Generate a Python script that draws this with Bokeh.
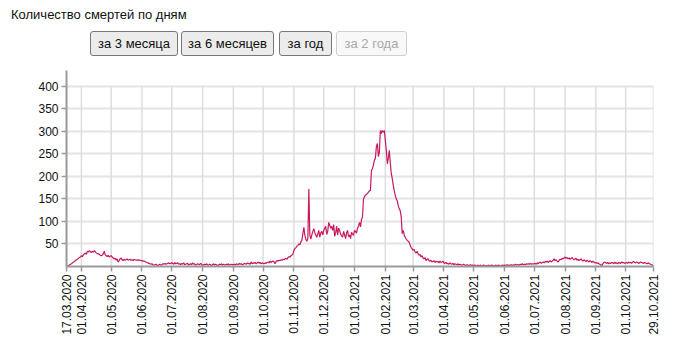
import pandas as pd
from bokeh.plotting import figure
from bokeh.layouts import column
from bokeh.models import Div, Range1d, FixedTicker, DatetimeTickFormatter, ColumnDataSource
from bokeh.embed import file_html
from bokeh.resources import INLINE

# ---- data: daily deaths, 17.03.2020 .. 29.10.2021 ----
start_date = "2020-03-17"
mar20 = [0, 1, 2, 3, 5, 6, 8, 10, 11, 13, 15, 16, 18, 20, 21]
apr20 = [24, 22, 26, 28, 30, 27, 34, 32, 35, 33, 31, 34, 32, 35, 33, 30, 29, 28, 27, 25, 24, 25, 28, 34, 26, 24, 22, 25, 21, 23]
may20 = [24, 21, 19, 17, 18, 14, 17, 10, 13, 17, 19, 15, 13, 16, 14, 15, 17, 14, 15, 16, 14, 15, 13, 16, 15, 14, 15, 13, 15, 14, 13]
jun20 = [13, 12, 12, 11, 10, 9, 8, 7, 6, 5, 6, 4, 3, 4, 5, 3, 2, 4, 5, 3, 4, 6, 5, 7, 5, 6, 7, 8, 6, 7]
jul20 = [8, 7, 5, 9, 6, 7, 8, 5, 6, 4, 7, 5, 8, 4, 5, 6, 7, 3, 5, 6, 4, 8, 5, 6, 3, 4, 6, 5, 4, 7, 5]
aug20 = [2, 4, 5, 3, 6, 4, 3, 5, 4, 2, 4, 6, 3, 5, 4, 2, 3, 5, 4, 6, 3, 5, 4, 3, 5, 4, 6, 3, 4, 5, 4]
sep20 = [4, 5, 3, 6, 5, 4, 7, 5, 6, 4, 5, 7, 6, 5, 8, 6, 7, 5, 10, 6, 8, 7, 9, 6, 8, 10, 7, 9, 6, 8]
oct20 = [7, 6, 8, 7, 9, 10, 8, 12, 9, 11, 12, 10, 6, 11, 13, 12, 14, 13, 15, 14, 16, 15, 17, 18, 16, 20, 22, 21, 24, 25, 28]
nov20 = [36, 40, 42, 45, 47, 50, 48, 55, 58, 73, 87, 69, 60, 56, 62, 172, 69, 61, 70, 78, 84, 75, 70, 65, 72, 80, 65, 74, 78, 70]
dec20 = [80, 85, 89, 71, 78, 98, 92, 85, 89, 80, 93, 67, 75, 89, 70, 85, 80, 72, 68, 65, 78, 70, 62, 75, 80, 66, 70, 62, 76, 72, 69]
jan21 = [80, 78, 74, 85, 90, 98, 88, 104, 110, 150, 155, 158, 160, 162, 165, 168, 169, 213, 217, 225, 236, 240, 266, 273, 244, 254, 302, 295, 302, 298, 302]
feb21 = [280, 258, 228, 240, 258, 230, 206, 195, 180, 168, 158, 150, 146, 135, 128, 124, 110, 73, 80, 70, 65, 61, 58, 56, 54, 47, 42, 39]
mar21 = [36, 38, 32, 30, 34, 28, 25, 27, 21, 24, 19, 17, 20, 13, 16, 17, 13, 12, 14, 10, 11, 13, 9, 12, 10, 11, 8, 12, 9, 10, 12]
apr21 = [8, 7, 9, 6, 7, 5, 8, 6, 5, 7, 4, 6, 5, 4, 6, 3, 5, 4, 3, 4, 5, 3, 2, 4, 3, 2, 3, 4, 2, 3]
may21 = [2, 3, 2, 1, 3, 2, 2, 3, 1, 2, 3, 2, 1, 2, 2, 3, 1, 2, 3, 2, 2, 1, 3, 2, 2, 3, 2, 1, 2, 3, 2]
jun21 = [3, 2, 3, 4, 2, 3, 3, 4, 2, 4, 3, 5, 3, 4, 4, 3, 5, 4, 6, 4, 5, 4, 6, 5, 6, 5, 7, 5, 6, 6]
jul21 = [6, 7, 5, 8, 6, 9, 10, 7, 9, 10, 8, 11, 10, 12, 9, 11, 13, 10, 12, 14, 17, 13, 15, 12, 10, 14, 16, 15, 18, 17, 19]
aug21 = [21, 18, 20, 17, 19, 16, 18, 20, 17, 15, 17, 18, 14, 16, 13, 15, 17, 14, 12, 15, 13, 11, 14, 12, 10, 13, 11, 9, 12, 10, 8]
sep21 = [9, 7, 8, 6, 5, 3, 2, 6, 9, 10, 8, 7, 9, 6, 8, 7, 9, 8, 6, 10, 7, 8, 6, 9, 8, 7, 10, 8, 9, 7]
oct21 = [8, 9, 7, 10, 8, 9, 7, 10, 11, 9, 8, 10, 9, 7, 8, 10, 9, 8, 7, 9, 8, 6, 7, 8, 6, 5, 4, 3, 1]

tick_labels = ["17.03.2020", "01.04.2020", "01.05.2020", "01.06.2020", "01.07.2020",
               "01.08.2020", "01.09.2020", "01.10.2020", "01.11.2020", "01.12.2020",
               "01.01.2021", "01.02.2021", "01.03.2021", "01.04.2021", "01.05.2021",
               "01.06.2021", "01.07.2021", "01.08.2021", "01.09.2021", "01.10.2021",
               "29.10.2021"]
y_ticks = [50, 100, 150, 200, 250, 300, 350, 400]

title_text = "Количество смертей по дням"
buttons = ["за 3 месяца", "за 6 месяцев", "за год", "за 2 года"]

deaths = (mar20 + apr20 + may20 + jun20 + jul20 + aug20 + sep20 + oct20 + nov20 + dec20
          + jan21 + feb21 + mar21 + apr21 + may21 + jun21 + jul21 + aug21 + sep21 + oct21)
dates = pd.date_range(start_date, periods=len(deaths), freq="D")
src = ColumnDataSource(dict(date=dates, deaths=deaths))

tick_dates = pd.to_datetime(tick_labels, format="%d.%m.%Y")
tick_ms = [float(t.value // 10**6) for t in tick_dates]

# ---- header (title + buttons) ----
btn_geom = [(90, 88), (181, 93), (279, 53), (336, 71)]
btn_html = ""
for i, (lbl, (bx, bw)) in enumerate(zip(buttons, btn_geom)):
    disabled = i == 3
    style = ("position:absolute;top:31px;left:%dpx;width:%dpx;height:25px;box-sizing:border-box;"
             "padding:0;margin:0;font-family:'Liberation Sans';font-size:13px;border-radius:3px;"
             "text-align:center;line-height:23px;" % (bx, bw))
    if disabled:
        style += "color:#a8a8a8;background:#f8f8f8;border:1px solid #cfcfcf;"
    else:
        style += "color:#111;background:#ececec;border:1px solid #777;"
    btn_html += '<div style="%s">%s</div>' % (style, lbl)

header = Div(
    text=('<div style="position:relative;width:694px;height:62px;">'
          '<div style="position:absolute;left:11px;top:6px;font-family:\'Liberation Sans\';font-size:13px;color:#111;white-space:nowrap;">%s</div>'
          '%s</div>') % (title_text, btn_html),
    width=694, height=62, margin=0)

# ---- chart ----
p = figure(width=694, height=293, x_axis_type="datetime",
           output_backend="svg", toolbar_location=None,
           x_range=Range1d(tick_ms[0], tick_ms[-1]), y_range=Range1d(0, 435),
           min_border_left=66, min_border_right=41, min_border_top=8, min_border_bottom=89,
           margin=0)
p.outline_line_color = None
p.background_fill_color = "white"
p.border_fill_color = "white"

p.xgrid.visible = False
p.ygrid.grid_line_color = "#e4e4e4"
p.ygrid.grid_line_width = 2

# vertical grid lines at the x ticks, from 0 to the top tick
p.segment(x0=tick_dates, y0=0, x1=tick_dates, y1=y_ticks[-1],
          line_color="#dddddd", line_width=1.5)

p.line(x="date", y="deaths", source=src, line_color="#c8195f", line_width=1.2)

p.xaxis.ticker = FixedTicker(ticks=tick_ms)
fmt = "%d.%m.%Y"
p.xaxis.formatter = DatetimeTickFormatter(
    microseconds=fmt, milliseconds=fmt, seconds=fmt, minsec=fmt, minutes=fmt,
    hourmin=fmt, hours=fmt, days=fmt, months=fmt, years=fmt)
p.xaxis.major_label_orientation = 3.14159265 / 2
p.yaxis.ticker = FixedTicker(ticks=y_ticks)

for ax in (p.xaxis, p.yaxis):
    ax.axis_line_color = "#9a9a9a"
    ax.axis_line_width = 2
    ax.major_tick_line_color = "#9a9a9a"
    ax.major_tick_line_width = 1.5
    ax.major_tick_out = 5
    ax.major_tick_in = 0
    ax.minor_tick_line_color = None
    ax.major_label_text_font = "Liberation Sans"
    ax.major_label_text_font_size = "12px"
    ax.major_label_text_color = "#111"
p.xaxis.major_label_standoff = 3
p.yaxis.major_label_standoff = 3

layout = column(header, p, margin=0, spacing=0)
open("out.html", "w").write(file_html(layout, INLINE))
